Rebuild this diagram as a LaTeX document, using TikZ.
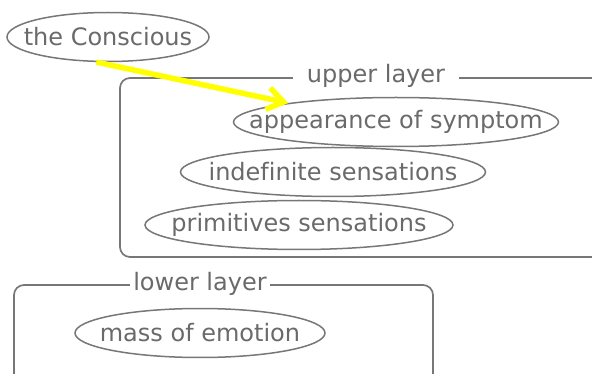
\documentclass[tikz,border=0pt]{standalone}
\usepackage{fontspec}
\setmainfont{DejaVu Sans}[Ligatures=NoCommon]
\usepackage{xcolor}
\usetikzlibrary{arrows.meta,shapes.geometric}
\definecolor{lyrgray}{HTML}{777777}
\definecolor{txtgray}{HTML}{6A6A6A}
\definecolor{hiyellow}{HTML}{FFFF00}

\begin{document}
\begin{tikzpicture}[x=1pt,y=-1pt,font=\fontsize{24}{28}\selectfont]
\tikzset{
concept/.style={ellipse,draw=lyrgray,line width=1.5pt,text=txtgray,inner xsep=-40pt,inner ysep=-10pt,minimum height=49pt},
layer/.style={draw=lyrgray,line width=1.7pt,rounded corners=10pt},
tag/.style={fill=white,text=txtgray,inner xsep=6pt,inner ysep=0pt},
hl/.style={-{Straight Barb[length=16pt,width=22pt]},line width=5.5pt,color=hiyellow}}

\clip (0,0) rectangle (592,374);

% the two layers
\draw[layer] (120,78) rectangle (640,257);
\draw[layer] (14,285) rectangle (433,400);
\node[tag,inner xsep=14pt] (upper) at (376,76) {upper layer};
\node[tag,inner xsep=3pt] (lower) at (200,284) {lower layer};

\node[concept,minimum width=202pt] (con) at (108,37) {the Conscious};
\node[concept,minimum width=325pt] (app) at (396,122) {appearance of symptom};
\node[concept,minimum width=305pt] (ind) at (333,172) {indefinite sensations};
\node[concept,minimum width=308pt] (pri) at (299,225) {primitives sensations};
\node[concept,minimum width=250pt] (mass) at (200,333) {mass of emotion};

\draw[hl] (con.245) -- (app.170);
\end{tikzpicture}
\end{document}
